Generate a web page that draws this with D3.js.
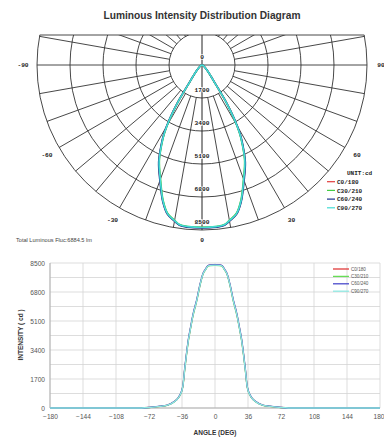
<!DOCTYPE html>
<html>
<head>
<meta charset="utf-8">
<script src="https://cdn.jsdelivr.net/npm/d3@7"></script>
<style>
  body { margin: 0; background: #fff; }
  svg { display: block; font-family: "Liberation Sans", Arial, sans-serif; }
</style>
</head>
<body>
<svg id="chart" width="384" height="440"></svg>
<script>
// gamma angles (deg) and intensity (cd), one array per C-plane pair
const gammas = [0, 5, 8, 10, 13, 16, 20, 24, 27, 29, 31, 33, 35, 36, 38, 40, 45, 52, 60, 70, 80, 90, 120, 150, 180];
const c0   = [8380, 8370, 8320, 8150, 7880, 7300, 6300, 5450, 4600, 4000, 3200, 2300, 1300, 1050, 780, 600, 350, 170, 100, 40, 0, 0, 0, 0, 0];
const c30  = [8360, 8350, 8300, 8120, 7850, 7260, 6250, 5400, 4560, 3950, 3150, 2250, 1280, 1030, 770, 590, 340, 160, 95, 35, 0, 0, 0, 0, 0];
const c60  = [8400, 8390, 8340, 8170, 7900, 7330, 6340, 5490, 4640, 4050, 3250, 2350, 1330, 1070, 800, 610, 360, 175, 105, 45, 0, 0, 0, 0, 0];
const c90  = [8370, 8360, 8310, 8140, 7870, 7290, 6280, 5430, 4580, 3980, 3180, 2280, 1300, 1040, 780, 600, 345, 165, 100, 40, 0, 0, 0, 0, 0];

const seriesNames = ['C0/180', 'C30/210', 'C60/240', 'C90/270'];
const seriesValues = [c0, c30, c60, c90];
const polarColors = ['#e23b3b', '#44cc44', '#1c2f8c', '#44ddd4'];
const lineColors = ['#e03a3a', '#66dd55', '#4a4acc', '#8fe8e2'];

const ringValues = [1700, 3400, 5100, 6800, 8500];
const ringLabels = ['0', '1700', '3400', '5100', '6800', '8500'];
const angleLabels = [-90, -60, -30, 0, 30, 60, 90];
const yTicks = [0, 1700, 3400, 5100, 6800, 8500];
const xTicks = [-180, -144, -108, -72, -36, 0, 36, 72, 108, 144, 180];

const flux = 'Total Luminous Fluc:6884.5 lm';

// full -180..180 profile for each series (C180 side mirrors C0 side)
function fullProfile(vals) {
  const left = gammas.slice(1).map((g, i) => ({ g: -g, v: vals[i + 1] })).reverse();
  const right = gammas.map((g, i) => ({ g, v: vals[i] }));
  return left.concat(right);
}
const profiles = seriesValues.map(fullProfile);

const svg = d3.select('#chart');

// title
svg.append('text')
  .attr('x', 202).attr('y', 19)
  .attr('text-anchor', 'middle')
  .attr('font-size', 10.2).attr('font-weight', 'bold')
  .attr('fill', '#333')
  .text('Luminous Intensity Distribution Diagram');

// ---------- polar diagram ----------
const cx = 202, cy = 65, R = 165, topY = 35;
const rScale = d3.scaleLinear().domain([0, 8500]).range([0, R]);
const rad = d => d * Math.PI / 180;

svg.append('clipPath').attr('id', 'polar-clip')
  .append('rect').attr('x', 0).attr('y', topY).attr('width', 384).attr('height', cy + R + 3 - topY);

const polar = svg.append('g').attr('clip-path', 'url(#polar-clip)');
const gridColor = '#333';

polar.selectAll('circle.ring')
  .data(ringValues)
  .join('circle')
  .attr('class', 'ring')
  .attr('cx', cx).attr('cy', cy)
  .attr('r', d => rScale(d))
  .attr('fill', 'none')
  .attr('stroke', gridColor)
  .attr('stroke-width', 0.9);

const spokes = d3.range(0, 360, 10).filter(a => a % 90 !== 0);
polar.selectAll('line.spoke')
  .data(spokes)
  .join('line')
  .attr('class', 'spoke')
  .attr('x1', a => cx + rScale(1700) * Math.sin(rad(a)))
  .attr('y1', a => cy + rScale(1700) * Math.cos(rad(a)))
  .attr('x2', a => cx + R * Math.sin(rad(a)))
  .attr('y2', a => cy + R * Math.cos(rad(a)))
  .attr('stroke', gridColor)
  .attr('stroke-width', 0.9);

// main axes
polar.append('line')
  .attr('x1', cx - R).attr('x2', cx + R).attr('y1', cy).attr('y2', cy)
  .attr('stroke', gridColor).attr('stroke-width', 0.9);
polar.append('line')
  .attr('x1', cx).attr('x2', cx).attr('y1', topY).attr('y2', cy + R)
  .attr('stroke', '#222').attr('stroke-width', 1);

// top border
const topHalf = Math.sqrt(R * R - (cy - topY) * (cy - topY));
svg.append('line')
  .attr('x1', cx - topHalf).attr('x2', cx + topHalf)
  .attr('y1', topY).attr('y2', topY)
  .attr('stroke', gridColor).attr('stroke-width', 0.9);

// intensity curves
const radial = d3.lineRadial()
  .angle(d => Math.PI - rad(d.g))
  .radius(d => rScale(d.v))
  .curve(d3.curveCatmullRom.alpha(0.5));

polar.append('g')
  .attr('transform', `translate(${cx},${cy})`)
  .selectAll('path')
  .data(profiles)
  .join('path')
  .attr('d', d => radial(d.filter(p => Math.abs(p.g) <= 90)))
  .attr('fill', 'none')
  .attr('stroke', (d, i) => polarColors[i])
  .attr('stroke-width', 1.6);

// ring labels
const mono = '"Liberation Mono", "DejaVu Sans Mono", monospace';
svg.selectAll('text.ringlab')
  .data(ringLabels)
  .join('text')
  .attr('class', 'ringlab')
  .attr('x', cx)
  .attr('y', (d, i) => cy + rScale(i * 1700) - 8)
  .attr('dy', '0.35em')
  .attr('text-anchor', 'middle')
  .attr('font-family', mono)
  .attr('font-size', 6.2).attr('font-weight', 'bold')
  .attr('fill', '#222')
  .attr('stroke', '#fff').attr('stroke-width', 1.5)
  .attr('paint-order', 'stroke')
  .text(d => d);

// angle labels
const labelR = 179;
svg.selectAll('text.anglab')
  .data(angleLabels)
  .join('text')
  .attr('class', 'anglab')
  .attr('x', a => cx + labelR * Math.sin(rad(a)))
  .attr('y', a => cy + (a === 0 ? 175 : labelR) * Math.cos(rad(a)))
  .attr('dy', '0.35em')
  .attr('text-anchor', 'middle')
  .attr('font-family', mono)
  .attr('font-size', 6.2).attr('font-weight', 'bold')
  .attr('fill', '#222')
  .text(a => a);

// polar legend
const pLeg = svg.append('g').attr('font-family', mono).attr('font-size', 6).attr('font-weight', 'bold');
pLeg.append('text').attr('x', 347).attr('y', 173).attr('dy', '0.35em').attr('fill', '#222').text('UNIT:cd');
seriesNames.forEach((name, i) => {
  const y = 181.7 + i * 8.7;
  pLeg.append('line').attr('x1', 327).attr('x2', 335).attr('y1', y).attr('y2', y)
    .attr('stroke', polarColors[i]).attr('stroke-width', 1.2);
  pLeg.append('text').attr('x', 337).attr('y', y).attr('dy', '0.35em').attr('fill', '#222').text(name);
});

svg.append('text')
  .attr('x', 16).attr('y', 240).attr('dy', '0.35em')
  .attr('font-size', 5.6).attr('fill', '#444')
  .text(flux);

// ---------- cartesian chart ----------
const x = d3.scaleLinear().domain([-180, 180]).range([50, 380]);
const y = d3.scaleLinear().domain([0, 8500]).range([408, 263]);

const plot = svg.append('g');

plot.selectAll('line.hgrid')
  .data(d3.range(0, 8501, 850))
  .join('line')
  .attr('class', 'hgrid')
  .attr('x1', x(-180)).attr('x2', x(180))
  .attr('y1', d => y(d)).attr('y2', d => y(d))
  .attr('stroke', '#d4d4d4').attr('stroke-width', 0.8);

plot.selectAll('line.vgrid')
  .data(xTicks)
  .join('line')
  .attr('class', 'vgrid')
  .attr('x1', d => x(d)).attr('x2', d => x(d))
  .attr('y1', y(0)).attr('y2', y(8500))
  .attr('stroke', '#d4d4d4').attr('stroke-width', 0.8);

plot.append('line')
  .attr('x1', x(-180)).attr('x2', x(-180)).attr('y1', y(0)).attr('y2', y(8500))
  .attr('stroke', '#aaa').attr('stroke-width', 0.9);
plot.append('line')
  .attr('x1', x(-180)).attr('x2', x(180)).attr('y1', y(0)).attr('y2', y(0))
  .attr('stroke', '#aaa').attr('stroke-width', 0.9);

const line = d3.line()
  .x(d => x(d.g))
  .y(d => y(d.v))
  .curve(d3.curveMonotoneX);

plot.selectAll('path.series')
  .data(profiles)
  .join('path')
  .attr('class', 'series')
  .attr('d', line)
  .attr('fill', 'none')
  .attr('stroke', (d, i) => lineColors[i])
  .attr('stroke-width', 1.3);

// axes labels
const xAxis = d3.axisBottom(x).tickValues(xTicks).tickSize(0).tickPadding(6).tickFormat(d3.format('d'));
const yAxis = d3.axisLeft(y).tickValues(yTicks).tickSize(0).tickPadding(5).tickFormat(d3.format('d'));

const gx = svg.append('g').attr('transform', `translate(0,${y(0)})`).call(xAxis);
const gy = svg.append('g').attr('transform', `translate(${x(-180)},0)`).call(yAxis);
[gx, gy].forEach(g => {
  g.select('.domain').remove();
  g.selectAll('text').attr('font-size', 6.6).attr('fill', '#555')
    .attr('font-family', '"Liberation Sans", Arial, sans-serif');
});
// last x label sits at the window edge; keep it inside
gx.selectAll('.tick').filter(d => d === 180).select('text').attr('text-anchor', 'end').attr('dx', 4);

svg.append('text')
  .attr('transform', 'translate(21,335) rotate(-90)')
  .attr('text-anchor', 'middle').attr('dy', '0.35em')
  .attr('font-size', 6.5).attr('font-weight', 'bold').attr('fill', '#333')
  .text('INTENSITY ( cd )');

svg.append('text')
  .attr('x', 215).attr('y', 433)
  .attr('text-anchor', 'middle').attr('dy', '0.35em')
  .attr('font-size', 6.5).attr('font-weight', 'bold').attr('fill', '#333')
  .text('ANGLE (DEG)');

// cartesian legend
seriesNames.forEach((name, i) => {
  const ly = 269 + i * 7.4;
  svg.append('line').attr('x1', 333).attr('x2', 349).attr('y1', ly).attr('y2', ly)
    .attr('stroke', lineColors[i]).attr('stroke-width', 1.3);
  svg.append('text').attr('x', 351).attr('y', ly).attr('dy', '0.35em')
    .attr('font-size', 4.6).attr('fill', '#555').text(name);
});
</script>
</body>
</html>
